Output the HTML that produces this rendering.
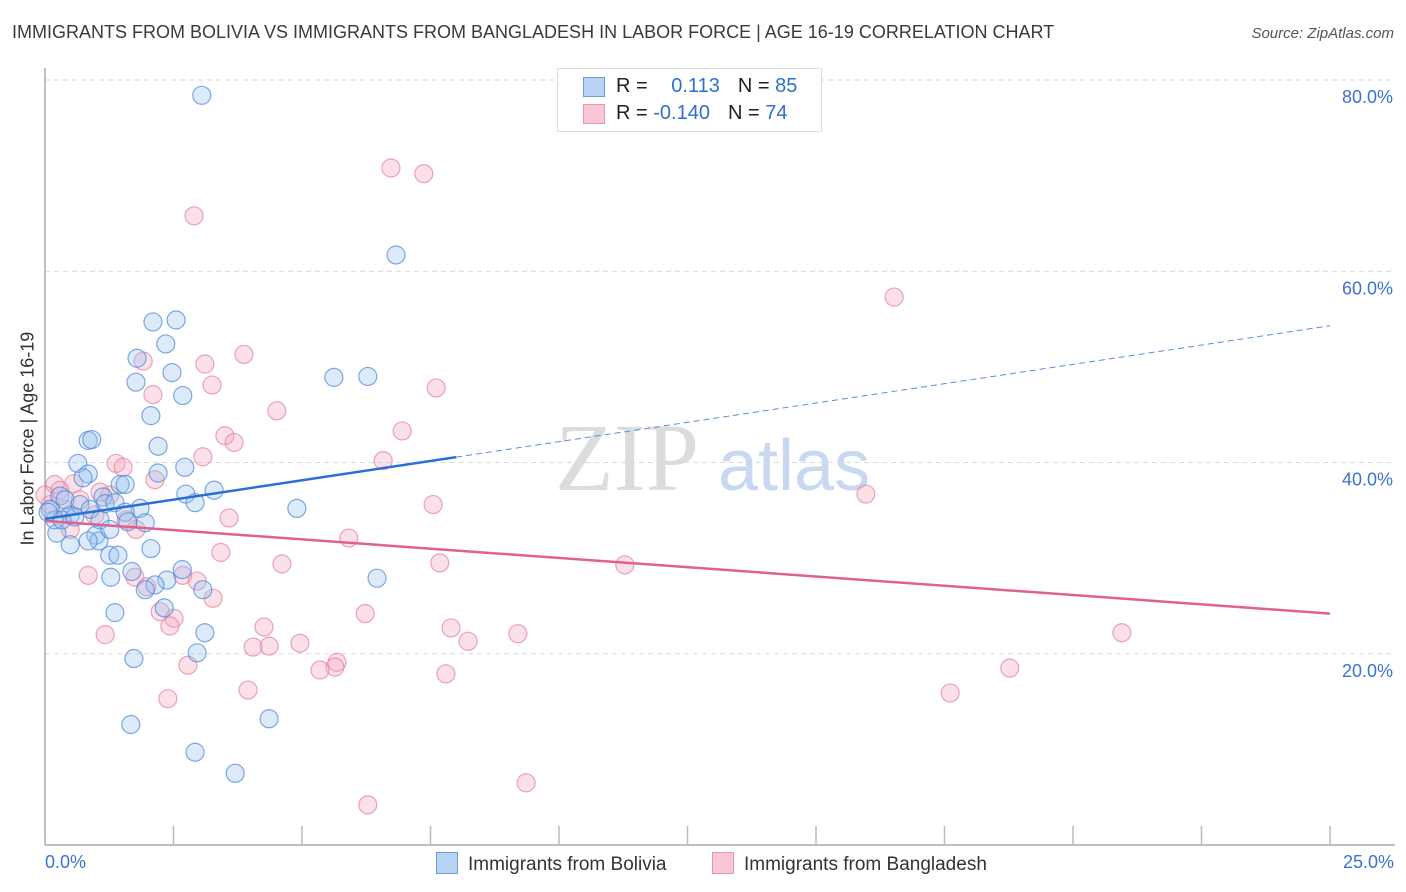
<!DOCTYPE html>
<html><head><meta charset="utf-8"><style>
body{margin:0;background:#fff;font-family:"Liberation Sans",sans-serif}
#w{position:relative;width:1406px;height:892px;overflow:hidden}
.t{position:absolute;white-space:nowrap}
</style></head><body>
<div id="w">
<div class="t" style="left:12px;top:22px;font-size:18px;color:#3a3a3a">IMMIGRANTS FROM BOLIVIA VS IMMIGRANTS FROM BANGLADESH IN LABOR FORCE | AGE 16-19 CORRELATION CHART</div>
<div class="t" style="right:12px;top:25px;font-size:15px;font-style:italic;color:#555">Source: ZipAtlas.com</div>
<svg id="s" width="1406" height="892" style="position:absolute;left:0;top:0"></svg>
</div>
<script>
const xTicks=[0,2.5,5,7.5,10,12.5,15,17.5,20,22.5,25];
const yTicks=[20,40,60,80];
const yTickLabels=["20.0%","40.0%","60.0%","80.0%"];
const boliviaX=[3.05,6.83,2.10,2.55,2.35,1.79,2.47,1.77,5.62,6.28,2.68,2.06,2.20,0.84,0.91,0.64,0.84,2.72,2.20,0.74,1.46,1.56,3.29,2.74,1.13,2.92,4.90,1.85,0.29,0.10,0.49,1.17,1.36,1.56,1.95,0.23,0.49,0.99,1.05,0.84,1.26,1.42,2.06,1.28,1.69,2.37,2.14,1.95,2.67,3.07,6.46,1.36,2.32,3.11,2.96,1.73,1.67,4.36,2.92,3.70,0.19,0.39,0.68,0.88,0.06,0.33,0.58,1.07,1.61,1.26];
const boliviaY=[78.4,61.7,54.7,54.9,52.4,50.9,49.4,48.4,48.9,49.0,47.0,44.9,41.7,42.3,42.4,39.9,38.8,39.5,38.9,38.4,37.7,37.7,37.1,36.7,36.4,35.8,35.2,35.2,36.5,35.1,34.5,35.7,35.8,34.8,33.7,32.6,31.4,32.4,31.8,31.8,30.3,30.3,31.0,28.0,28.6,27.7,27.2,26.7,28.8,26.7,27.9,24.3,24.8,22.2,20.1,19.5,12.6,13.2,9.7,7.5,34.0,36.1,35.6,35.1,34.8,34.0,34.3,34.0,33.8,33.0];
const bangladeshX=[6.73,7.37,2.90,16.52,3.87,1.91,3.11,3.25,7.61,2.10,4.51,6.95,3.50,3.68,3.07,6.58,1.38,1.52,2.14,15.97,7.55,0.56,0.19,1.26,1.07,3.58,1.58,1.77,5.91,3.42,4.61,7.68,11.28,0.84,1.75,2.68,2.96,3.27,1.98,2.24,2.51,2.43,6.23,4.26,7.90,1.17,9.20,20.95,8.23,4.96,4.36,4.05,5.68,5.64,5.35,2.78,18.77,7.80,3.95,17.61,2.39,9.36,6.28,0.29,0,0.68,0.97,0.39,0.10,0.49];
const bangladeshY=[70.8,70.2,65.8,57.3,51.3,50.6,50.3,48.1,47.8,47.1,45.4,43.3,42.8,42.1,40.6,40.2,39.9,39.5,38.2,36.7,35.6,37.8,37.7,36.6,36.9,34.2,34.0,33.0,32.1,30.6,29.4,29.5,29.3,28.2,28.0,28.2,27.6,25.8,27.0,24.4,23.7,22.9,24.2,22.8,22.7,22.0,22.1,22.2,21.3,21.1,20.8,20.7,19.1,18.6,18.3,18.8,18.5,17.9,16.2,15.9,15.3,6.5,4.2,37.1,36.6,36.1,34.5,35.1,35.6,33.0];
const boliviaTrend=[34.1,54.3]; // value at x=0 and x=25
const boliviaSolidEnd=8.0;
const bangladeshTrend=[33.9,24.2];
const X0=45,X1=1330,Y0=845,PPY=9.5625;
const xs=v=>X0+(v/25)*(X1-X0);
const ys=v=>Y0-v*PPY;
const s=document.getElementById('s');
const NS='http://www.w3.org/2000/svg';
function mk(tag,at){const e=document.createElementNS(NS,tag);for(const k in at)e.setAttribute(k,at[k]);s.appendChild(e);return e;}
// watermark
let wm=mk('text',{x:555,y:490,'font-size':96,'font-family':'Liberation Serif',fill:'#dcdcdc'});wm.textContent='ZIP';


let wm2=mk('text',{x:718,y:490,'font-size':72,'font-family':'Liberation Sans',fill:'#c8d8f0'});wm2.textContent='atlas';


yTicks.forEach((t,i)=>{
 let g=mk('line',{x1:X0,x2:1395,y1:ys(t),y2:ys(t),stroke:'#dadada','stroke-dasharray':'5,4'});
 
 
 let l=mk('text',{x:1393,y:ys(t)+23,'text-anchor':'end','font-size':18,fill:'#3a73d0'});l.textContent=yTickLabels[i];
 
 
});
let ya=mk('line',{x1:X0,x2:X0,y1:68,y2:Y0,stroke:'#aaa','stroke-width':1.5});


let xa=mk('line',{x1:X0,x2:1395,y1:Y0,y2:Y0,stroke:'#aaa','stroke-width':1.5});


xTicks.forEach(t=>{let k=mk('line',{x1:xs(t),x2:xs(t),y1:Y0,y2:Y0-19,stroke:'#bbb','stroke-width':1.5});
 
 });
function pts(X,Y,fill,stroke,name){X.forEach((x,i)=>{let c=mk('circle',{cx:xs(x),cy:ys(Y[i]),r:9,fill:fill,'fill-opacity':0.35,stroke:stroke,'stroke-opacity':0.7,'stroke-width':1.2});
 
 });}
pts(bangladeshX,bangladeshY,'#f4a6be','#e47fa0','bangladesh-point');
pts(boliviaX,boliviaY,'#9cc2f0','#4a86d8','bolivia-point');
const bAt=x=>boliviaTrend[0]+(boliviaTrend[1]-boliviaTrend[0])*x/25;
let t1=mk('line',{x1:xs(0),y1:ys(bAt(0)),x2:xs(boliviaSolidEnd),y2:ys(bAt(boliviaSolidEnd)),stroke:'#2a6fd6','stroke-width':2.5});


let t2=mk('line',{x1:xs(boliviaSolidEnd),y1:ys(bAt(boliviaSolidEnd)),x2:xs(25),y2:ys(bAt(25)),stroke:'#5a8fd8','stroke-width':1,'stroke-dasharray':'6,4'});


let t3=mk('line',{x1:xs(0),y1:ys(bangladeshTrend[0]),x2:xs(25),y2:ys(bangladeshTrend[1]),stroke:'#e0608f','stroke-width':2.5});


</script>
<div class="t" style="left:-62px;top:445px;transform:rotate(-90deg);font-size:18px;color:#333;width:180px;text-align:center">In Labor Force | Age 16-19</div>
<div class="t" style="left:45px;top:852px;font-size:18px;color:#3a73d0">0.0%</div>
<div class="t" style="right:12px;top:852px;font-size:18px;color:#3a73d0">25.0%</div>
<div style="position:absolute;left:557px;top:68px;width:263px;height:62px;border:1px solid #ddd;background:#fff;font-size:20px;color:#222">
 <div style="position:absolute;left:25px;top:8px;width:20px;height:18px;background:#b9d3f5;border:1px solid #6a9be0"></div>
 <div class="t" style="left:58px;top:6px">R = <span style="color:#2f6fd0;margin-left:18px">0.113</span><span style="margin-left:18px">N = </span><span style="color:#2f6fd0">85</span></div>
 <div style="position:absolute;left:25px;top:35px;width:20px;height:18px;background:#f9c6d6;border:1px solid #e896b0"></div>
 <div class="t" style="left:58px;top:33px">R = <span style="color:#2f6fd0">-0.140</span><span style="margin-left:18px">N = </span><span style="color:#2f6fd0">74</span></div>
</div>
<div style="position:absolute;left:436px;top:852px;font-size:19px;color:#333">
 <div style="position:absolute;left:0;top:0;white-space:nowrap"><span style="display:inline-block;width:20px;height:20px;background:#b9d3f5;border:1px solid #6a9be0;vertical-align:-4px;margin-right:10px"></span>Immigrants from Bolivia</div>
 <div style="position:absolute;left:276px;top:0;white-space:nowrap"><span style="display:inline-block;width:20px;height:20px;background:#f9c6d6;border:1px solid #e896b0;vertical-align:-4px;margin-right:10px"></span>Immigrants from Bangladesh</div>
</div>
</body></html>
